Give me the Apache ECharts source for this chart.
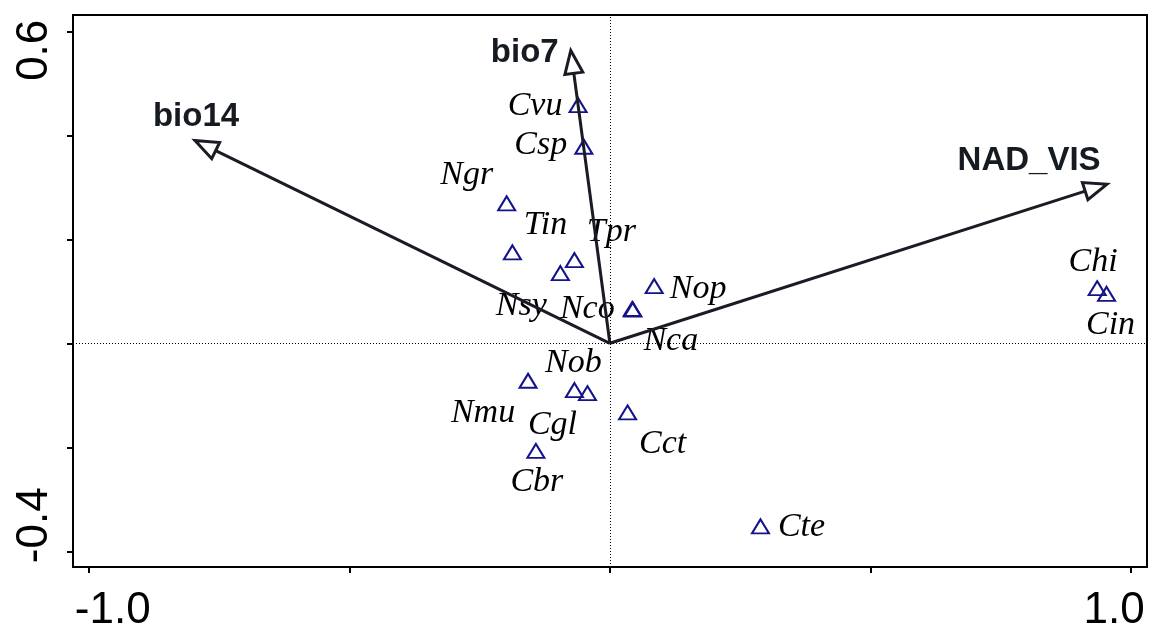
<!DOCTYPE html>
<html>
<head>
<meta charset="utf-8">
<script src="https://cdn.jsdelivr.net/npm/echarts@6/dist/echarts.min.js"></script>
<style>
html, body { margin: 0; padding: 0; background: #fff; }
#main { width: 1150px; height: 628px; }
</style>
</head>
<body>
<div id="main"></div>
<script>
// species scores
const species  = ['Cvu', 'Csp', 'Ngr', 'Tin', 'Tpr', 'Nsy', 'Nco', 'Nop', 'Nca', 'Nob', 'Nmu', 'Cgl', 'Cct', 'Cbr', 'Cte', 'Chi', 'Cin'];
const speciesX = [-0.061, -0.050, -0.198, -0.187, -0.068, -0.095, 0.043, 0.085, 0.044, -0.068, -0.157, -0.043, 0.034, -0.142, 0.289, 0.935, 0.953];
const speciesY = [0.458, 0.378, 0.269, 0.175, 0.160, 0.135, 0.066, 0.110, 0.065, -0.090, -0.072, -0.096, -0.133, -0.207, -0.352, 0.106, 0.095];

// environmental vectors
const envNames = ['bio14', 'bio7', 'NAD_VIS'];
const envX = [-0.796, -0.075, 0.954];
const envY = [0.390, 0.563, 0.306];

// ticks and tick labels
const xTicks = [-1, -0.5, 0, 0.5, 1];
const xTickLabels = [-1, 1];
const yTicks = [-0.4, -0.2, 0, 0.2, 0.4, 0.6];
const yTickLabels = [-0.4, 0.6];

// label placement (pixels from the point / arrow tip)
const speciesLabelOffset = [
  [-43, 1], [-43, -2], [-40, -28], [33, -27], [37, -28], [-39, 33], [-45, 0], [44, 3], [38, 32],
  [-1, -27], [-45, 32], [-35, 32], [35, 32], [1, 31], [41, 1], [-4, -26], [4, 31]
];
const envLabelOffset = [[1, -24], [-46, 2], [-78, -23]];

const ink = '#191c24';

let chart = echarts.init(document.getElementById('main'));

let speciesData = species.map(function (name, i) {
  return {
    name: name,
    value: [speciesX[i], speciesY[i]],
    label: { offset: speciesLabelOffset[i] }
  };
});
let envData = envNames.map(function (name, i) {
  return { name: name, value: [envX[i], envY[i]] };
});

function arrowItem(params, api) {
  let o = api.coord([0, 0]);
  let t = api.coord([api.value(0), api.value(1)]);
  let dx = t[0] - o[0], dy = t[1] - o[1];
  let len = Math.sqrt(dx * dx + dy * dy);
  let ux = dx / len, uy = dy / len;
  let hl = 23, hw = 9;
  let bx = t[0] - ux * hl, by = t[1] - uy * hl;
  let off = envLabelOffset[params.dataIndex];
  return {
    type: 'group',
    children: [
      { type: 'line', shape: { x1: o[0], y1: o[1], x2: bx, y2: by },
        style: { stroke: ink, lineWidth: 3 } },
      { type: 'polygon',
        shape: { points: [[t[0], t[1]], [bx - uy * hw, by + ux * hw], [bx + uy * hw, by - ux * hw]] },
        style: { fill: '#fff', stroke: ink, lineWidth: 3, lineJoin: 'miter' } },
      { type: 'text', x: t[0] + off[0], y: t[1] + off[1],
        style: { text: envNames[params.dataIndex], fill: '#161b22',
                 font: 'bold 33px "Liberation Sans", Arial, sans-serif',
                 align: 'center', verticalAlign: 'middle' } }
    ]
  };
}

let tickLabelFont = { fontSize: 44, fontFamily: '"Liberation Sans", Arial, sans-serif', color: '#000' };

let option = {
  animation: false,
  grid: {
    left: 73, right: 3, top: 15, bottom: 61,
    show: true, borderColor: '#000', borderWidth: 2,
    outerBoundsMode: 'none'
  },
  xAxis: {
    type: 'value',
    min: -1.0301, max: 1.0306,
    axisLine: { show: true, onZero: false, lineStyle: { color: '#000', width: 2 } },
    axisTick: { show: true, customValues: xTicks, length: 6, lineStyle: { color: '#000', width: 2 } },
    axisLabel: {
      show: true, customValues: xTickLabels, margin: 22,
      formatter: function (v) { return (v < 0 ? '{lo|' : '{hi|') + v.toFixed(1) + '}'; },
      rich: {
        lo: Object.assign({ padding: [0, 0, 0, 48] }, tickLabelFont),
        hi: Object.assign({ padding: [0, 34, 0, 0] }, tickLabelFont)
      }
    },
    splitLine: { show: false }
  },
  yAxis: {
    type: 'value',
    min: -0.4302, max: 0.6313,
    axisLine: { show: true, onZero: false, lineStyle: { color: '#000', width: 2 } },
    axisTick: { show: true, customValues: yTicks, length: 6, lineStyle: { color: '#000', width: 2 } },
    axisLabel: {
      show: true, customValues: yTickLabels, rotate: 90, margin: 16,
      formatter: function (v) { return (v < 0 ? '{lo|' : '{hi|') + v.toFixed(1) + '}'; },
      rich: {
        lo: Object.assign({ padding: [0, 0, 0, 52] }, tickLabelFont),
        hi: Object.assign({ padding: [0, 38, 0, 0] }, tickLabelFont)
      }
    },
    splitLine: { show: false }
  },
  series: [
    {
      type: 'scatter',
      data: speciesData,
      symbol: 'triangle',
      symbolSize: [17, 14],
      itemStyle: { color: 'none', borderColor: '#14148a', borderWidth: 2, opacity: 1 },
      label: {
        show: true, position: 'inside',
        formatter: '{b}',
        fontFamily: '"Liberation Serif", "Times New Roman", serif',
        fontStyle: 'italic', fontSize: 34, color: '#000', opacity: 1
      },
      markLine: {
        silent: true,
        symbol: ['none', 'none'],
        label: { show: false },
        lineStyle: { type: [1, 2], color: '#000', width: 1, opacity: 1 },
        data: [{ xAxis: 0 }, { yAxis: 0 }]
      },
      z: 2
    },
    {
      type: 'custom',
      data: envData,
      renderItem: arrowItem,
      z: 3
    }
  ]
};

chart.setOption(option);
</script>
</body>
</html>
